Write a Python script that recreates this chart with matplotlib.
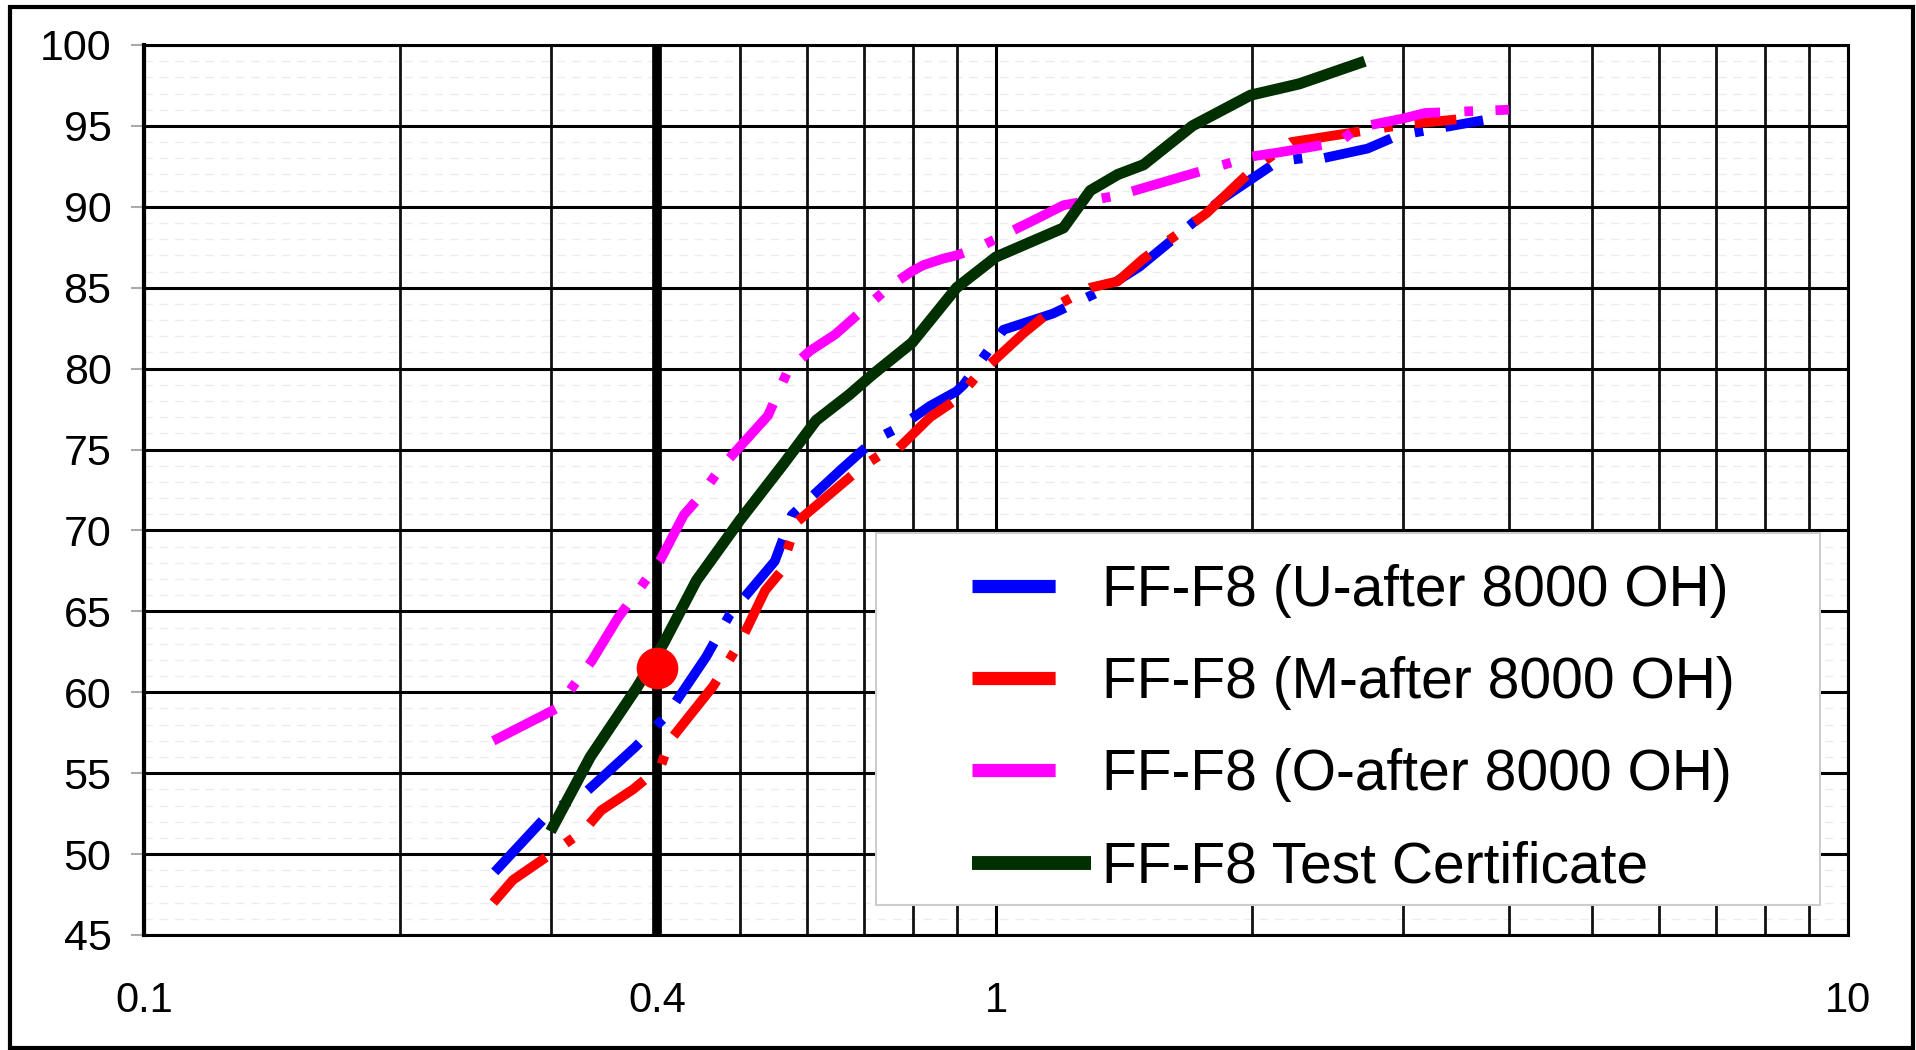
import matplotlib
matplotlib.use("Agg")
import matplotlib.pyplot as plt
import numpy as np
from matplotlib.lines import Line2D
from matplotlib.patches import Rectangle
from matplotlib.ticker import FixedLocator, NullFormatter

plt.rcParams["font.family"] = ["Liberation Sans", "DejaVu Sans"]

# U-after 8000 OH
u_x = [0.258, 0.301, 0.328, 0.377, 0.398, 0.411, 0.457, 0.487, 0.550, 0.576, 0.659, 0.699,
       0.72, 0.771, 0.837, 0.899, 0.916, 1.02, 1.166, 1.339, 1.474, 1.766, 1.843, 2.14,
       2.29, 2.37, 2.73, 2.96, 3.73]
u_y = [48.9, 52.7, 53.7, 56.6, 57.85, 58.6, 62.2, 64.8, 68.1, 70.95, 73.8, 75.0,
       75.6, 76.4, 77.7, 78.6, 79.0, 82.4, 83.4, 84.9, 86.3, 89.7, 90.5, 92.8,
       93.0, 92.9, 93.6, 94.4, 95.35]

# M-after 8000 OH
m_x = [0.257, 0.271, 0.302, 0.329, 0.344, 0.375, 0.404, 0.414, 0.466, 0.501, 0.536, 0.558,
       0.583, 0.674, 0.699, 0.733, 0.769, 0.797, 0.837, 0.899, 0.944, 1.078, 1.187, 1.29,
       1.39, 1.49, 1.766, 2.0, 2.22, 3.03, 3.47]
m_y = [47.0, 48.4, 50.1, 51.5, 52.7, 54.0, 55.4, 57.0, 60.4, 63.1, 66.3, 67.4,
       70.5, 73.3, 74.0, 74.7, 75.1, 75.9, 77.0, 78.1, 79.4, 82.2, 84.0, 85.0,
       85.4, 86.8, 89.6, 92.3, 94.0, 95.1, 95.4]

# O-after 8000 OH
o_x = [0.257, 0.305, 0.335, 0.360, 0.403, 0.430, 0.451, 0.474, 0.540, 0.570, 0.605, 0.647,
       0.751, 0.796, 0.822, 0.867, 0.899, 0.955, 1.13, 1.2, 1.29, 1.39, 1.70, 1.85,
       1.99, 2.17, 2.53, 2.66, 3.0, 3.19, 4.0]
o_y = [57.0, 59.0, 61.9, 64.6, 68.1, 70.95, 72.2, 73.8, 77.1, 79.9, 81.1, 82.1,
       85.1, 86.0, 86.4, 86.8, 87.0, 87.5, 89.4, 90.1, 90.4, 90.7, 92.05, 92.6,
       93.1, 93.4, 94.0, 94.9, 95.45, 95.8, 96.0]

# Test Certificate
t_x = [0.30, 0.334, 0.379, 0.407, 0.445, 0.500, 0.563, 0.615, 0.673, 0.715, 0.797, 0.899,
       1.0, 1.2, 1.29, 1.39, 1.49, 1.70, 1.99, 2.27, 2.71]
t_y = [51.4, 56.0, 60.3, 63.0, 66.9, 70.6, 74.1, 76.8, 78.4, 79.6, 81.6, 85.0,
       86.9, 88.7, 91.0, 92.0, 92.6, 95.0, 96.9, 97.6, 99.0]

labels = ["FF-F8 (U-after 8000 OH)", "FF-F8 (M-after 8000 OH)",
          "FF-F8 (O-after 8000 OH)", "FF-F8 Test Certificate"]
colors = ["#0000ff", "#ff0000", "#ff00ff", "#003000"]

x_ticks = [0.1, 0.4, 1, 10]
x_ticklabels = ["0.1", "0.4", "1", "10"]
y_ticks = list(range(45, 101, 5))

ref_x, ref_y = 0.4, 61.5

fig = plt.figure(figsize=(19.16, 10.5), dpi=100)
ax = fig.add_axes([144 / 1916, 1 - 935 / 1050, 1704 / 1916, 890 / 1050])

# 网格
ax.set_xscale("log")
ax.set_xlim(0.1, 10)
ax.set_ylim(45, 100)
ax.xaxis.set_major_locator(FixedLocator(x_ticks))
ax.set_xticklabels(x_ticklabels)
ax.xaxis.set_minor_locator(FixedLocator([m * d for d in (0.1, 1) for m in range(2, 10)]))
ax.xaxis.set_minor_formatter(NullFormatter())
ax.set_yticks(y_ticks)
ax.set_axisbelow(True)
ax.grid(which="major", axis="both", color="black", lw=2.2)
ax.grid(which="minor", axis="x", color="#111111", lw=2.0)

# 浅色虚线 (每 1%)，放在最底层
faint = [v for v in np.arange(45, 100) if v % 5 != 0]
ax.hlines(faint, 0.1, 10, colors="#ececec", lw=1.0, linestyles=(0, (6, 5)), zorder=0.1)

ax.tick_params(axis="y", which="major", labelsize=31, length=9.4, width=1.5,
               color="#aaaaaa", pad=14)
ax.tick_params(axis="x", which="both", length=0, labelsize=30, pad=33)
for sp in ax.spines.values():
    sp.set_linewidth(2.2)
    sp.set_color("black")
ax.spines["left"].set_linewidth(3)

# 0.4 参考线
ax.axvline(0.4, color="black", lw=7, zorder=2)

dash = (7.2, 2.5, 0.9, 2.3)
for xs, ys, c in zip([u_x, m_x, o_x], [u_y, m_y, o_y], colors[:3]):
    ax.plot(xs, ys, color=c, lw=7, dashes=dash, dash_capstyle="butt", zorder=3)
ax.plot(t_x, t_y, color=colors[3], lw=8, solid_capstyle="butt", zorder=4)

ax.plot([ref_x], [ref_y], "o", color="#ff0000", ms=29, mec="#ff0000", zorder=6)

# 图例
ax.add_patch(Rectangle((0.4296, 0.0337), 0.554, 0.418, transform=ax.transAxes,
                       facecolor="white", edgecolor="#cccccc", lw=1.5, zorder=5))
handles = [Line2D([], [], color=c, lw=9.5, dashes=(6.3, 30), dash_capstyle="butt")
           for c in colors[:3]]
handles.append(Line2D([], [], color=colors[3], lw=10, solid_capstyle="butt"))
leg = ax.legend(handles, labels, loc="upper left", bbox_to_anchor=(0.4857, 0.4174),
                frameon=False, fontsize=41, borderpad=0, borderaxespad=0,
                handlelength=2.09, handletextpad=0.2, labelspacing=0.675)
leg.set_zorder(6)

# 外框
fig.patches.append(Rectangle((10 / 1916, 2 / 1050), 1903 / 1916, 1041 / 1050,
                             transform=fig.transFigure, fill=False,
                             edgecolor="black", lw=3))

fig.savefig("out.png", dpi=100)
